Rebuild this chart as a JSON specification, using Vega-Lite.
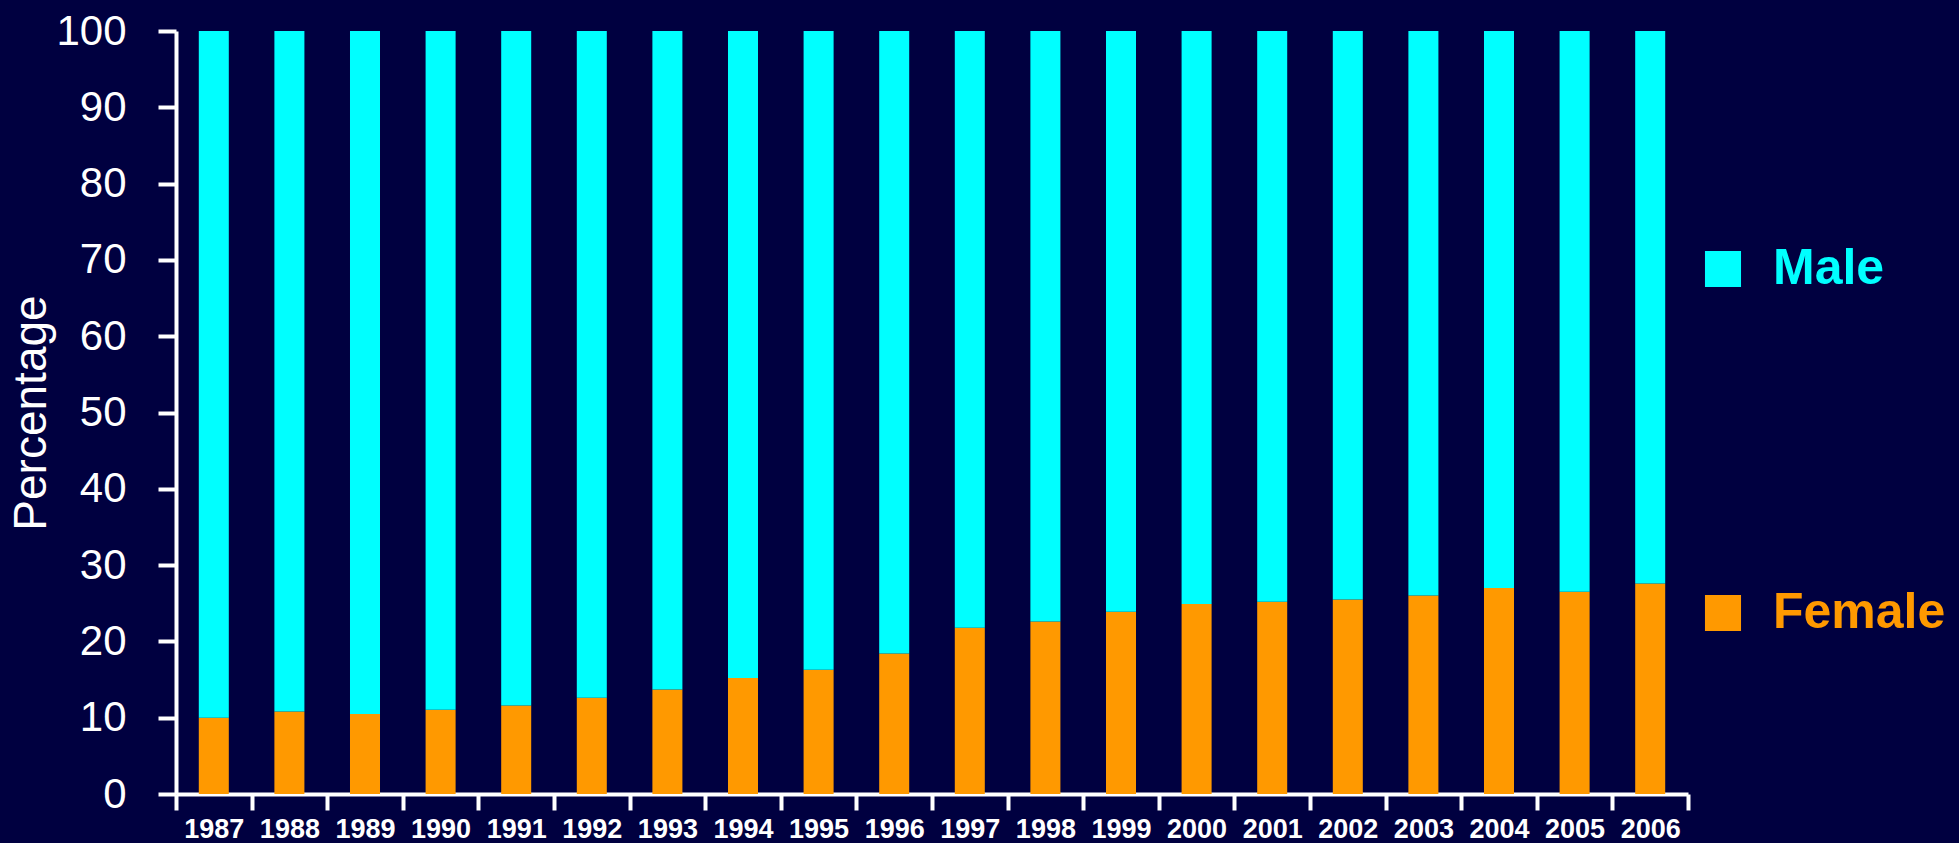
{
  "$schema": "https://vega.github.io/schema/vega-lite/v6.json",
  "width": 1512,
  "height": 763,
  "autosize": {"type": "none"},
  "padding": {"left": 176, "top": 31, "right": 271, "bottom": 49},
  "background": "#000040",
  "config": {"view": {"stroke": null}},
  "data": {"values": [
    {"year": "1987", "sex": "Female", "pct": 10.0}, {"year": "1987", "sex": "Male", "pct": 90.0},
    {"year": "1988", "sex": "Female", "pct": 10.8}, {"year": "1988", "sex": "Male", "pct": 89.2},
    {"year": "1989", "sex": "Female", "pct": 10.5}, {"year": "1989", "sex": "Male", "pct": 89.5},
    {"year": "1990", "sex": "Female", "pct": 11.05}, {"year": "1990", "sex": "Male", "pct": 88.95},
    {"year": "1991", "sex": "Female", "pct": 11.6}, {"year": "1991", "sex": "Male", "pct": 88.4},
    {"year": "1992", "sex": "Female", "pct": 12.6}, {"year": "1992", "sex": "Male", "pct": 87.4},
    {"year": "1993", "sex": "Female", "pct": 13.7}, {"year": "1993", "sex": "Male", "pct": 86.3},
    {"year": "1994", "sex": "Female", "pct": 15.2}, {"year": "1994", "sex": "Male", "pct": 84.8},
    {"year": "1995", "sex": "Female", "pct": 16.3}, {"year": "1995", "sex": "Male", "pct": 83.7},
    {"year": "1996", "sex": "Female", "pct": 18.4}, {"year": "1996", "sex": "Male", "pct": 81.6},
    {"year": "1997", "sex": "Female", "pct": 21.8}, {"year": "1997", "sex": "Male", "pct": 78.2},
    {"year": "1998", "sex": "Female", "pct": 22.6}, {"year": "1998", "sex": "Male", "pct": 77.4},
    {"year": "1999", "sex": "Female", "pct": 23.9}, {"year": "1999", "sex": "Male", "pct": 76.1},
    {"year": "2000", "sex": "Female", "pct": 24.9}, {"year": "2000", "sex": "Male", "pct": 75.1},
    {"year": "2001", "sex": "Female", "pct": 25.2}, {"year": "2001", "sex": "Male", "pct": 74.8},
    {"year": "2002", "sex": "Female", "pct": 25.5}, {"year": "2002", "sex": "Male", "pct": 74.5},
    {"year": "2003", "sex": "Female", "pct": 26.0}, {"year": "2003", "sex": "Male", "pct": 74.0},
    {"year": "2004", "sex": "Female", "pct": 27.0}, {"year": "2004", "sex": "Male", "pct": 73.0},
    {"year": "2005", "sex": "Female", "pct": 26.5}, {"year": "2005", "sex": "Male", "pct": 73.5},
    {"year": "2006", "sex": "Female", "pct": 27.6}, {"year": "2006", "sex": "Male", "pct": 72.4}
  ]},
  "mark": {"type": "bar", "width": {"band": 0.397}},
  "encoding": {
    "x": {
      "field": "year", "type": "ordinal",
      "scale": {"paddingInner": 0, "paddingOuter": 0},
      "axis": {
        "title": null,
        "labelAngle": 0,
        "domainColor": "white", "domainWidth": 4,
        "tickBand": "extent",
        "tickColor": "white", "tickWidth": 4, "tickSize": 16,
        "labelColor": "white", "labelFont": "Liberation Sans", "labelFontWeight": "bold", "labelFontSize": 27,
        "labelPadding": 6
      }
    },
    "y": {
      "field": "pct", "type": "quantitative", "stack": "zero",
      "scale": {"domain": [0, 100], "nice": false},
      "axis": {
        "title": "Percentage",
        "titleFont": "Liberation Sans", "titleFontSize": 46, "titleFontWeight": "normal", "titleColor": "white",
        "titlePadding": 0,
        "values": [0, 10, 20, 30, 40, 50, 60, 70, 80, 90, 100],
        "grid": false,
        "domainColor": "white", "domainWidth": 4,
        "tickColor": "white", "tickWidth": 4, "tickSize": 18,
        "labelColor": "white", "labelFont": "Liberation Sans", "labelFontSize": 42, "labelPadding": 32
      }
    },
    "order": {"field": "sex", "type": "nominal", "sort": "ascending"},
    "color": {
      "field": "sex", "type": "nominal",
      "scale": {"domain": ["Male", "Female"], "range": ["#00ffff", "#ff9900"]},
      "legend": {
        "title": null,
        "orient": "none",
        "legendX": 1522,
        "legendY": 213,
        "padding": 0,
        "symbolType": "square",
        "symbolSize": 1300,
        "symbolStrokeWidth": 0,
        "symbolOpacity": 1,
        "labelFont": "Liberation Sans", "labelFontWeight": "bold", "labelFontSize": 50,
        "labelOffset": 25,
        "labelLimit": 400,
        "rowPadding": 294,
        "encode": {"labels": {"update": {"fill": {"signal": "datum.value === 'Male' ? '#00ffff' : '#ff9900'"}}}}
      }
    }
  }
}
